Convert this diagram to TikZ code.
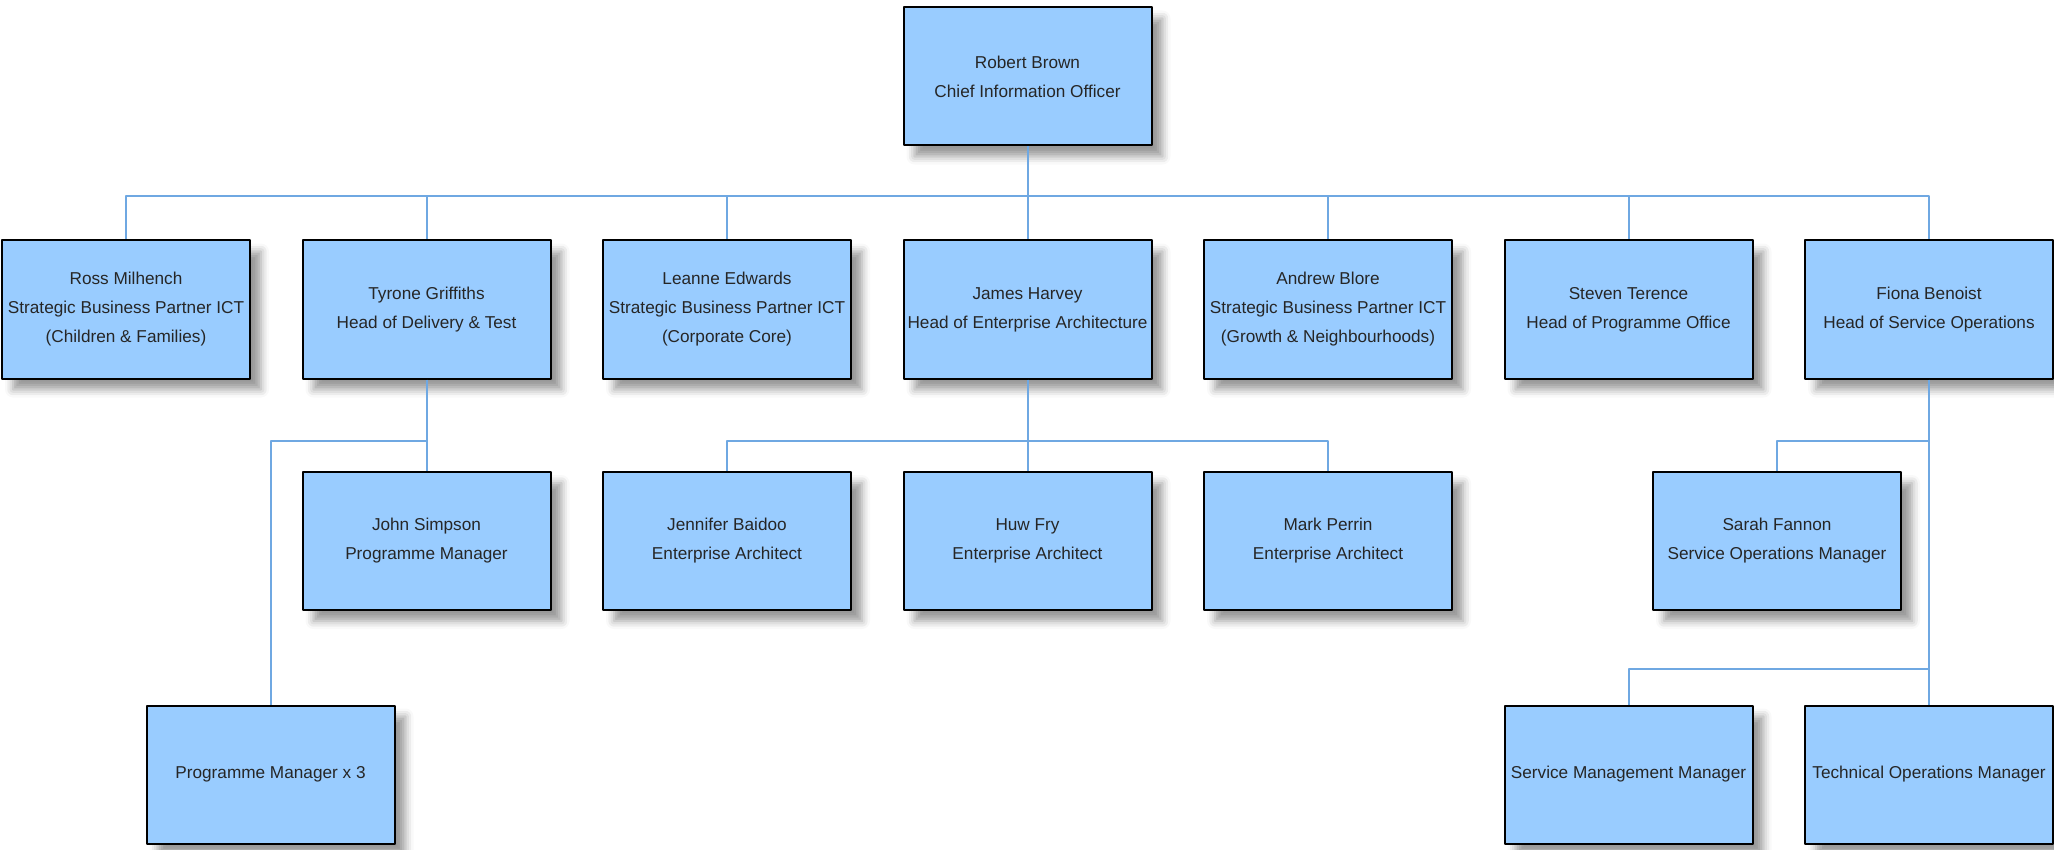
\documentclass[tikz,border=0pt]{standalone}
\usepackage{fontspec}
\setmainfont{Liberation Sans}
\usetikzlibrary{shadows.blur}
\definecolor{boxblue}{RGB}{153,204,255}
\definecolor{linkblue}{RGB}{111,168,226}
\begin{document}
\begin{tikzpicture}[x=0.5pt, y=-0.5pt, font=\fontsize{8.6}{14.5}\selectfont, line join=round,
		person/.style={draw=black, line width=1pt, fill=boxblue, text=black!85, align=center, inner sep=0pt,
			minimum width=124pt, minimum height=69pt,
			blur shadow={shadow xshift=5.5pt, shadow yshift=-5.5pt, shadow blur radius=4pt, shadow opacity=40}},
		link/.style={draw=linkblue, line width=1pt}]
		\useasboundingbox (0,0) rectangle (2054,850);
		% top
		\node[person] (cio) at (1027.5,76.5) {Robert Brown\\Chief Information Officer};
		% first row
		\node[person] (ross) at (126,309.5) {Ross Milhench\\Strategic Business Partner ICT\\(Children \& Families)};
		\node[person] (tyrone) at (426.5,309.5) {Tyrone Griffiths\\Head of Delivery \& Test};
		\node[person] (leanne) at (727,309.5) {Leanne Edwards\\Strategic Business Partner ICT\\(Corporate Core)};
		\node[person] (james) at (1027.5,309.5) {James Harvey\\Head of Enterprise Architecture};
		\node[person] (andrew) at (1328,309.5) {Andrew Blore\\Strategic Business Partner ICT\\(Growth \& Neighbourhoods)};
		\node[person] (steven) at (1628.5,309.5) {Steven Terence\\Head of Programme Office};
		\node[person] (fiona) at (1929,309.5) {Fiona Benoist\\Head of Service Operations};
		% second row
		\node[person] (john) at (426.5,541) {John Simpson\\Programme Manager};
		\node[person] (jennifer) at (727,541) {Jennifer Baidoo\\Enterprise Architect};
		\node[person] (huw) at (1027.5,541) {Huw Fry\\Enterprise Architect};
		\node[person] (mark) at (1328,541) {Mark Perrin\\Enterprise Architect};
		\node[person] (sarah) at (1777,541) {Sarah Fannon\\Service Operations Manager};
		% third row
		\node[person] (progman) at (270.5,774.5) {Programme Manager x 3};
		\node[person] (servman) at (1628.5,774.5) {Service Management Manager};
		\node[person] (techops) at (1929,774.5) {Technical Operations Manager};
		% links
		\coordinate (topbus) at (1027.5,196);
		\foreach \n in {ross,tyrone,leanne,james,andrew,steven,fiona}
			\draw[link] (cio.south) -- (topbus) -| (\n.north);
		\coordinate (tybus) at (426.5,441);
		\draw[link] (tyrone.south) -- (john.north);
		\draw[link] (tybus) -| (progman.north);
		\coordinate (eabus) at (1027.5,441);
		\draw[link] (james.south) -- (huw.north);
		\draw[link] (eabus) -| (jennifer.north);
		\draw[link] (eabus) -| (mark.north);
		\coordinate (opsbus) at (1929,441);
		\coordinate (opsbus2) at (1929,669);
		\draw[link] (fiona.south) -- (techops.north);
		\draw[link] (opsbus) -| (sarah.north);
		\draw[link] (opsbus2) -| (servman.north);
\end{tikzpicture}
\end{document}
